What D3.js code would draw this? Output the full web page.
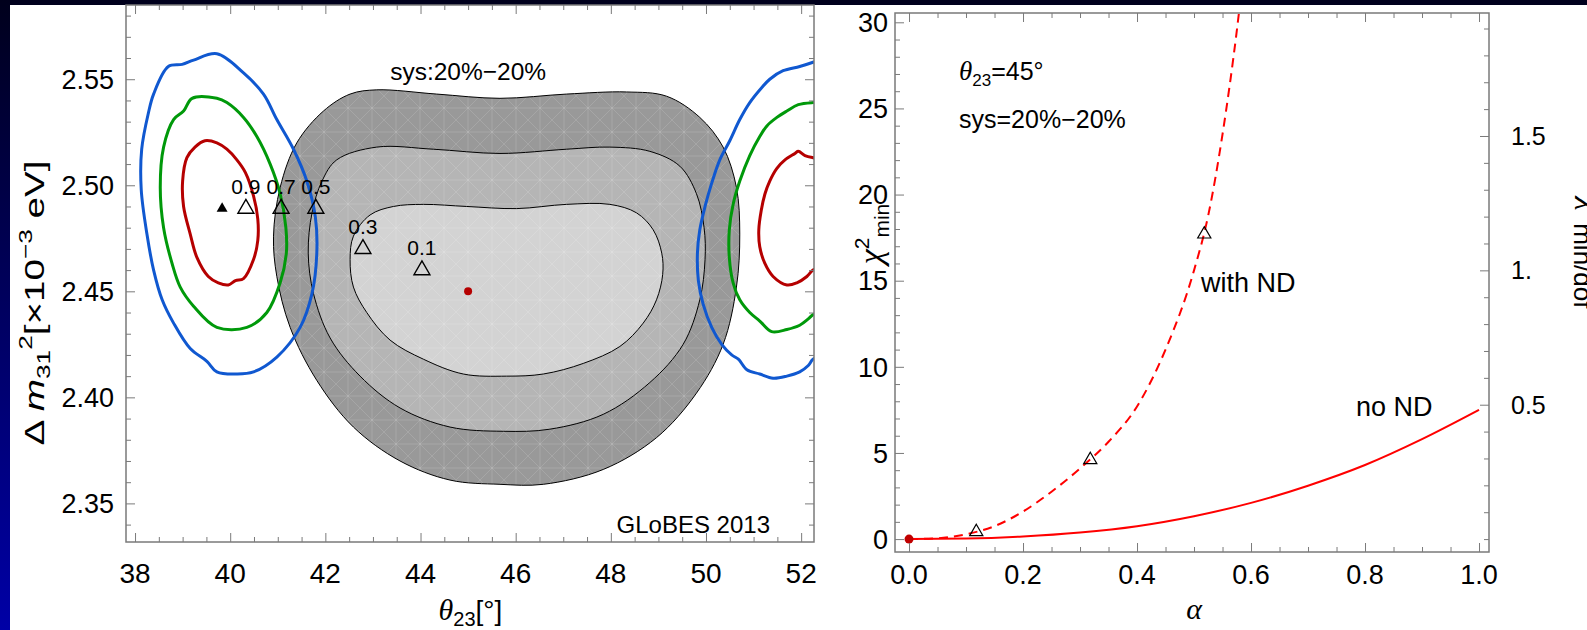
<!DOCTYPE html>
<html>
<head>
<meta charset="utf-8">
<script src="https://cdn.jsdelivr.net/npm/d3@7"></script>
<style>
  html, body { margin: 0; padding: 0; background: #000; }
  svg { display: block; }
</style>
</head>
<body>
<svg id="chart" width="1587" height="630"></svg>
<script>
// ---------- data: left panel (theta23 in deg, dm31^2 in 1e-3 eV^2) ----------
const thetaTicks = [38, 40, 42, 44, 46, 48, 50, 52];
const dmTicks = [2.35, 2.40, 2.45, 2.50, 2.55];

// grey allowed regions (3, 2, 1 sigma), closed contours
const sigma3 = [[43.08,2.545],[44.34,2.543],[45.67,2.541],[47.07,2.543],[48.33,2.544],[49.17,2.542],[49.87,2.532],[50.36,2.518],[50.64,2.499],[50.71,2.477],[50.64,2.452],[50.36,2.425],[49.80,2.402],[48.96,2.381],[47.84,2.366],[46.58,2.359],[45.67,2.359],[44.62,2.361],[43.57,2.370],[42.59,2.386],[41.82,2.408],[41.26,2.433],[40.98,2.457],[40.91,2.476],[41.05,2.499],[41.40,2.520],[41.96,2.535],[42.52,2.543]];
const sigma2 = [[42.24,2.512],[43.08,2.518],[44.27,2.517],[45.67,2.515],[47.07,2.517],[47.98,2.518],[48.82,2.516],[49.45,2.509],[49.80,2.496],[49.96,2.480],[49.98,2.465],[49.87,2.446],[49.52,2.425],[48.82,2.407],[47.84,2.392],[46.72,2.385],[45.74,2.384],[44.62,2.386],[43.57,2.395],[42.73,2.410],[42.10,2.428],[41.75,2.449],[41.64,2.468],[41.72,2.487],[41.93,2.502]];
const sigma1 = [[42.94,2.486],[43.43,2.490],[44.06,2.491],[44.97,2.490],[46.02,2.489],[47.07,2.491],[47.98,2.491],[48.54,2.487],[48.89,2.479],[49.07,2.468],[49.09,2.458],[48.96,2.446],[48.68,2.435],[48.19,2.424],[47.42,2.416],[46.58,2.411],[45.81,2.410],[44.90,2.411],[44.06,2.418],[43.36,2.427],[42.87,2.440],[42.59,2.452],[42.52,2.465],[42.59,2.476]];

// coloured contours, lower octant (closed)
const blueLeft = [[39.72,2.562],[40.28,2.553],[40.70,2.543],[40.98,2.531],[41.33,2.517],[41.61,2.502],[41.79,2.485],[41.82,2.468],[41.72,2.449],[41.47,2.433],[40.98,2.419],[40.49,2.412],[40.14,2.411],[39.72,2.412],[39.51,2.417],[39.16,2.423],[38.81,2.435],[38.57,2.446],[38.39,2.460],[38.25,2.477],[38.13,2.498],[38.14,2.517],[38.28,2.534],[38.39,2.543],[38.70,2.556],[38.99,2.557],[39.23,2.559]];
const greenLeft = [[39.20,2.541],[39.72,2.541],[39.93,2.539],[40.28,2.532],[40.56,2.523],[40.84,2.510],[41.05,2.496],[41.17,2.480],[41.18,2.468],[41.05,2.454],[40.77,2.440],[40.35,2.433],[39.72,2.433],[39.23,2.443],[38.95,2.452],[38.78,2.463],[38.60,2.480],[38.53,2.499],[38.60,2.518],[38.81,2.531],[39.02,2.535]];
const redLeft = [[39.47,2.521],[39.72,2.520],[39.93,2.517],[40.14,2.512],[40.32,2.506],[40.49,2.495],[40.58,2.484],[40.58,2.474],[40.49,2.465],[40.28,2.456],[40.11,2.455],[39.96,2.453],[39.75,2.454],[39.54,2.457],[39.30,2.466],[39.16,2.477],[39.02,2.490],[39.00,2.502],[39.09,2.513],[39.26,2.518]];

// coloured contours, upper octant (open, run past the frame)
const blueRight = [[52.6,2.561],[52.25,2.558],[51.97,2.556],[51.62,2.554],[51.34,2.550],[51.17,2.546],[50.92,2.539],[50.71,2.531],[50.50,2.521],[50.29,2.512],[50.12,2.501],[49.98,2.490],[49.87,2.479],[49.82,2.468],[49.84,2.455],[49.94,2.444],[50.12,2.433],[50.33,2.425],[50.54,2.420],[50.68,2.418],[50.86,2.413],[51.13,2.411],[51.41,2.409],[51.70,2.410],[51.97,2.412],[52.15,2.415],[52.25,2.418],[52.6,2.422]];
const greenRight = [[52.6,2.539],[52.25,2.539],[51.94,2.538],[51.70,2.535],[51.49,2.532],[51.28,2.528],[51.13,2.523],[50.92,2.514],[50.71,2.502],[50.57,2.491],[50.49,2.479],[50.49,2.466],[50.57,2.454],[50.71,2.446],[50.92,2.440],[51.13,2.436],[51.38,2.431],[51.70,2.432],[51.97,2.434],[52.15,2.437],[52.25,2.439],[52.6,2.442]];
const redRight = [[52.6,2.512],[52.25,2.513],[52.08,2.514],[51.94,2.516],[51.87,2.515],[51.66,2.512],[51.49,2.508],[51.34,2.502],[51.24,2.496],[51.16,2.488],[51.11,2.479],[51.13,2.471],[51.24,2.463],[51.41,2.457],[51.70,2.453],[51.91,2.454],[52.12,2.457],[52.25,2.460],[52.6,2.463]];

// best fit points for the alpha values
const fitLabels = ["0.9", "0.7", "0.5", "0.3", "0.1"];
const fitTheta = [40.33, 41.07, 41.80, 42.79, 44.03];
const fitDm = [2.489, 2.489, 2.489, 2.470, 2.460];
const fullFit = [39.83, 2.489];
const truePoint = [45.0, 2.45];

// ---------- data: right panel (alpha vs chi2_min) ----------
const alphaTicks = [0, 0.2, 0.4, 0.6, 0.8, 1.0];
const chiTicks = [0, 5, 10, 15, 20, 25, 30];
const ratioTicks = [0.5, 1, 1.5];
const ratioLabels = ["0.5", "1.", "1.5"];
const dof = 15.6;

const alphaND = [0, 0.05, 0.1, 0.15, 0.2, 0.25, 0.3, 0.35, 0.4, 0.45, 0.5, 0.525, 0.55, 0.575, 0.6];
const chiND = [0, 0.05, 0.28, 0.75, 1.6, 2.75, 4.1, 5.65, 7.7, 11.0, 15.6, 18.8, 23.5, 29.5, 37];
const alphaNoND = [0, 0.1, 0.2, 0.3, 0.4, 0.5, 0.6, 0.7, 0.8, 0.9, 1.0];
const chiNoND = [0, 0.03, 0.15, 0.38, 0.75, 1.33, 2.1, 3.1, 4.3, 5.8, 7.5];
const markAlpha = [0.118, 0.318, 0.518];
const markChi = [0.42, 4.6, 17.7];

// ---------- setup ----------
const svg = d3.select("#chart");
const FONT = "'Liberation Sans', Arial, Helvetica, sans-serif";
const SERIF = "'Liberation Serif', 'Times New Roman', serif";
const FRAME = "#7a7a7a";

const defs = svg.append("defs");
const grad = defs.append("linearGradient").attr("id", "bg").attr("x1", 0).attr("y1", 0).attr("x2", 0).attr("y2", 1);
grad.append("stop").attr("offset", 0).attr("stop-color", "#00001c");
grad.append("stop").attr("offset", 1).attr("stop-color", "#0000a6");

const hatch = defs.append("pattern").attr("id", "hatch")
    .attr("patternUnits", "userSpaceOnUse").attr("width", 24).attr("height", 24);
hatch.append("path")
    .attr("d", "M0,0L24,24M24,0L0,24M12,0V24M0,12H24")
    .attr("stroke", "#fff").attr("stroke-opacity", 0.13).attr("stroke-width", 1).attr("fill", "none");

svg.append("rect").attr("width", 1587).attr("height", 630).attr("fill", "url(#bg)");
svg.append("rect").attr("x", 10).attr("y", 5).attr("width", 1577).attr("height", 625).attr("fill", "#fff");

// ---------- left panel ----------
const L = {x0: 126, x1: 814, y0: 5, y1: 542};
const xL = d3.scaleLinear().domain([37.81, 52.27]).range([L.x0, L.x1]);
const yL = d3.scaleLinear().domain([2.3318, 2.585]).range([L.y1, L.y0]);

defs.append("clipPath").attr("id", "clipL").append("rect")
    .attr("x", L.x0).attr("y", L.y0).attr("width", L.x1 - L.x0).attr("height", L.y1 - L.y0);

const gl = svg.append("g").attr("clip-path", "url(#clipL)");
const closed = d3.line().x(d => xL(d[0])).y(d => yL(d[1])).curve(d3.curveCatmullRomClosed.alpha(0.5));
const open = d3.line().x(d => xL(d[0])).y(d => yL(d[1])).curve(d3.curveCatmullRom.alpha(0.5));

const greys = [[sigma3, "#999999"], [sigma2, "#b5b5b5"], [sigma1, "#d3d3d3"]];
greys.forEach(([c, col]) => {
  gl.append("path").attr("d", closed(c)).attr("fill", col);
});
gl.append("path").attr("d", closed(sigma3)).attr("fill", "url(#hatch)");
greys.forEach(([c]) => {
  gl.append("path").attr("d", closed(c)).attr("fill", "none").attr("stroke", "#000").attr("stroke-width", 1);
});

const coloured = [
  [blueLeft, "#1058d0", true], [greenLeft, "#00990a", true], [redLeft, "#b50000", true],
  [blueRight, "#1058d0", false], [greenRight, "#00990a", false], [redRight, "#b50000", false]
];
coloured.forEach(([c, col, isClosed]) => {
  gl.append("path").attr("d", isClosed ? closed(c) : open(c))
    .attr("fill", "none").attr("stroke", col).attr("stroke-width", 3).attr("stroke-linejoin", "round");
});

const triBig = d3.symbol().type(d3.symbolTriangle).size(110);
fitLabels.forEach((lab, i) => {
  const x = xL(fitTheta[i]), y = yL(fitDm[i]);
  gl.append("path").attr("d", triBig()).attr("transform", `translate(${x},${y})`)
    .attr("fill", "none").attr("stroke", "#000").attr("stroke-width", 1.4);
  gl.append("text").attr("x", x).attr("y", y - 15).attr("text-anchor", "middle")
    .attr("font-family", FONT).attr("font-size", 21).text(lab);
});
gl.append("path").attr("d", d3.symbol().type(d3.symbolTriangle).size(52)())
  .attr("transform", `translate(${xL(fullFit[0])},${yL(fullFit[1])})`).attr("fill", "#000");
gl.append("circle").attr("cx", xL(truePoint[0])).attr("cy", yL(truePoint[1])).attr("r", 4).attr("fill", "#b50000");

// ticks helper: inward ticks through d3 axes
function tickSet(axisFn, scale, vals, len, tr) {
  svg.append("g").attr("transform", tr)
    .call(axisFn(scale).tickValues(vals).tickSize(-len).tickSizeOuter(0).tickFormat(""))
    .call(s => s.select(".domain").remove())
    .selectAll("line").attr("stroke", FRAME).attr("stroke-width", 1);
}
function minors(scale, step, majors) {
  const [a, b] = scale.domain();
  return d3.range(Math.ceil(a / step) * step, b, step)
    .filter(v => !majors.some(m => Math.abs(m - v) < step / 10));
}

const thMinor = minors(xL, 0.5, thetaTicks);
const dmMinor = minors(yL, 0.01, dmTicks);
tickSet(d3.axisBottom, xL, thetaTicks, 9, `translate(0,${L.y1})`);
tickSet(d3.axisBottom, xL, thMinor, 5, `translate(0,${L.y1})`);
tickSet(d3.axisTop, xL, thetaTicks, 9, `translate(0,${L.y0})`);
tickSet(d3.axisTop, xL, thMinor, 5, `translate(0,${L.y0})`);
tickSet(d3.axisLeft, yL, dmTicks, 9, `translate(${L.x0},0)`);
tickSet(d3.axisLeft, yL, dmMinor, 5, `translate(${L.x0},0)`);
tickSet(d3.axisRight, yL, dmTicks, 9, `translate(${L.x1},0)`);
tickSet(d3.axisRight, yL, dmMinor, 5, `translate(${L.x1},0)`);
svg.append("rect").attr("x", L.x0).attr("y", L.y0).attr("width", L.x1 - L.x0).attr("height", L.y1 - L.y0)
  .attr("fill", "none").attr("stroke", FRAME).attr("stroke-width", 1.5);

svg.append("g").selectAll("text").data(dmTicks).join("text")
  .attr("x", L.x0 - 12).attr("y", d => yL(d)).attr("dy", "0.36em").attr("text-anchor", "end")
  .attr("font-family", FONT).attr("font-size", 27).text(d3.format(".2f"));
svg.append("g").selectAll("text").data(thetaTicks).join("text")
  .attr("x", d => xL(d)).attr("y", L.y1 + 41).attr("text-anchor", "middle")
  .attr("font-family", FONT).attr("font-size", 28).text(d => d);

svg.append("text").attr("x", xL(45.0)).attr("y", 80).attr("text-anchor", "middle")
  .attr("font-family", FONT).attr("font-size", 24.5).text("sys:20%\u221220%");
svg.append("text").attr("x", L.x1 - 44).attr("y", L.y1 - 9).attr("text-anchor", "end")
  .attr("font-family", FONT).attr("font-size", 24).text("GLoBES 2013");

// axis titles, left
const xt = svg.append("text").attr("x", xL(45.05)).attr("y", 620).attr("text-anchor", "middle")
  .attr("font-family", FONT).attr("font-size", 28);
xt.append("tspan").attr("font-family", SERIF).attr("font-style", "italic").attr("font-size", 30).text("\u03b8");
xt.append("tspan").attr("font-size", 20).attr("dy", 6).text("23");
xt.append("tspan").attr("dy", -6).text("[\u00b0]");

// y title is stretched along its reading direction, as in the original export
const yt = svg.append("text").attr("transform", "translate(44,303) rotate(-90) scale(1.38,1)")
  .attr("text-anchor", "middle").attr("font-family", FONT).attr("font-size", 28);
yt.append("tspan").text("\u0394 ");
yt.append("tspan").attr("font-style", "italic").text("m");
yt.append("tspan").attr("font-size", 19).attr("dy", 6).text("31");
yt.append("tspan").attr("font-size", 19).attr("dy", -18).text("2");
yt.append("tspan").attr("dy", 12).text("[\u00d710");
yt.append("tspan").attr("font-size", 19).attr("dy", -12).text("\u22123");
yt.append("tspan").attr("dy", 12).text(" eV]");

// ---------- right panel ----------
const R = {x0: 895, x1: 1489, y0: 13, y1: 552};
const xR = d3.scaleLinear().domain([-0.0246, 1.0175]).range([R.x0, R.x1]);
const yR = d3.scaleLinear().domain([-0.75, 30.54]).range([R.y1, R.y0]);
const yR2 = d3.scaleLinear().domain(yR.domain().map(v => v / dof)).range([R.y1, R.y0]);

defs.append("clipPath").attr("id", "clipR").append("rect")
  .attr("x", R.x0).attr("y", R.y0).attr("width", R.x1 - R.x0).attr("height", R.y1 - R.y0);
const gr = svg.append("g").attr("clip-path", "url(#clipR)");

const curve = d3.line().x(d => xR(d[0])).y(d => yR(d[1])).curve(d3.curveMonotoneX);
gr.append("path").attr("d", curve(alphaNoND.map((a, i) => [a, chiNoND[i]])))
  .attr("fill", "none").attr("stroke", "#ff0000").attr("stroke-width", 2);
gr.append("path").attr("d", curve(alphaND.map((a, i) => [a, chiND[i]])))
  .attr("fill", "none").attr("stroke", "#ff0000").attr("stroke-width", 2).attr("stroke-dasharray", "9,6");

const triSmall = d3.symbol().type(d3.symbolTriangle).size(75);
markAlpha.forEach((a, i) => {
  gr.append("path").attr("d", triSmall()).attr("transform", `translate(${xR(a)},${yR(markChi[i])})`)
    .attr("fill", "none").attr("stroke", "#000").attr("stroke-width", 1.2);
});
gr.append("circle").attr("cx", xR(0)).attr("cy", yR(0)).attr("r", 4.5).attr("fill", "#c00000");

const aMinor = minors(xR, 0.05, alphaTicks);
const cMinor = minors(yR, 1, chiTicks);
const rMinor = minors(yR2, 0.1, ratioTicks);
tickSet(d3.axisBottom, xR, alphaTicks, 9, `translate(0,${R.y1})`);
tickSet(d3.axisBottom, xR, aMinor, 5, `translate(0,${R.y1})`);
tickSet(d3.axisTop, xR, alphaTicks, 9, `translate(0,${R.y0})`);
tickSet(d3.axisTop, xR, aMinor, 5, `translate(0,${R.y0})`);
tickSet(d3.axisLeft, yR, chiTicks, 9, `translate(${R.x0},0)`);
tickSet(d3.axisLeft, yR, cMinor, 5, `translate(${R.x0},0)`);
tickSet(d3.axisRight, yR2, ratioTicks, 9, `translate(${R.x1},0)`);
tickSet(d3.axisRight, yR2, rMinor, 5, `translate(${R.x1},0)`);
svg.append("rect").attr("x", R.x0).attr("y", R.y0).attr("width", R.x1 - R.x0).attr("height", R.y1 - R.y0)
  .attr("fill", "none").attr("stroke", FRAME).attr("stroke-width", 1.5);

svg.append("g").selectAll("text").data(chiTicks).join("text")
  .attr("x", R.x0 - 7).attr("y", d => yR(d)).attr("dy", "0.36em").attr("text-anchor", "end")
  .attr("font-family", FONT).attr("font-size", 27).text(d => d);
svg.append("g").selectAll("text").data(alphaTicks).join("text")
  .attr("x", d => xR(d)).attr("y", R.y1 + 32).attr("text-anchor", "middle")
  .attr("font-family", FONT).attr("font-size", 27).text(d3.format(".1f"));
svg.append("g").selectAll("text").data(ratioTicks).join("text")
  .attr("x", R.x1 + 22).attr("y", d => yR2(d)).attr("dy", "0.36em").attr("text-anchor", "start")
  .attr("font-family", FONT).attr("font-size", 25).text((d, i) => ratioLabels[i]);

// in-plot labels
const t1 = svg.append("text").attr("x", 959).attr("y", 80).attr("font-family", FONT).attr("font-size", 25);
t1.append("tspan").attr("font-family", SERIF).attr("font-style", "italic").attr("font-size", 27).text("\u03b8");
t1.append("tspan").attr("font-size", 17).attr("dy", 6).text("23");
t1.append("tspan").attr("dy", -6).text("=45\u00b0");
svg.append("text").attr("x", 959).attr("y", 128).attr("font-family", FONT).attr("font-size", 25).text("sys=20%\u221220%");
svg.append("text").attr("x", 1201).attr("y", 292).attr("font-family", FONT).attr("font-size", 27).text("with ND");
svg.append("text").attr("x", 1356).attr("y", 416).attr("font-family", FONT).attr("font-size", 27).text("no ND");

// axis titles, right
svg.append("text").attr("x", xR(0.5)).attr("y", 619).attr("text-anchor", "middle")
  .attr("font-family", SERIF).attr("font-style", "italic").attr("font-size", 30).text("\u03b1");

const ct = svg.append("text").attr("transform", "translate(882,234) rotate(-90)").attr("text-anchor", "middle")
  .attr("font-family", FONT).attr("font-size", 30);
ct.append("tspan").attr("font-family", SERIF).attr("font-style", "italic").attr("font-size", 34).text("\u03c7");
ct.append("tspan").attr("font-size", 21).attr("dy", -13).text("2");
ct.append("tspan").attr("font-size", 21).attr("dy", 20).text("min");

// right-hand title runs off the page edge, as in the original
const rt = svg.append("text").attr("transform", "translate(1582,198) rotate(90)").attr("text-anchor", "start")
  .attr("font-family", FONT).attr("font-size", 28);
rt.append("tspan").attr("font-family", SERIF).attr("font-style", "italic").attr("font-size", 32).text("\u03c7");
rt.append("tspan").attr("font-size", 20).attr("dy", -12).text("2");
rt.append("tspan").attr("font-size", 26).attr("dy", 20).text("min/dof");
</script>
</body>
</html>
